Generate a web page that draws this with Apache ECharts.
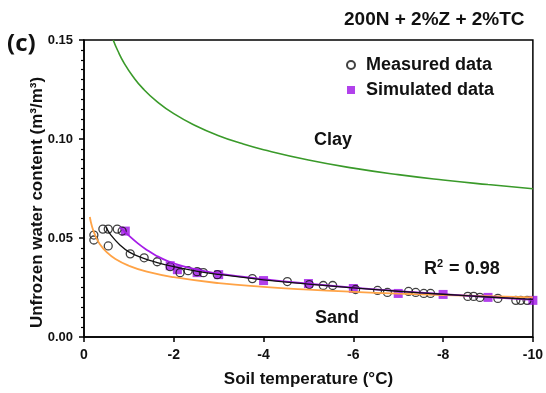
<!DOCTYPE html>
<html>
<head>
<meta charset="utf-8">
<script src="https://cdn.jsdelivr.net/npm/echarts@6/dist/echarts.min.js"></script>
<style>
  html, body { margin: 0; padding: 0; background: #fff; }
  #chart { width: 546px; height: 393px; }
</style>
</head>
<body>
<div id="chart"></div>
<script>
// measured points (soil temperature, unfrozen water content)
const measuredT = [-0.22, -0.22, -0.42, -0.54, -0.74, -0.85, -0.54, -1.03, -1.34, -1.63, -1.92, -2.14, -2.32, -2.52, -2.66, -2.97,
    -3.75, -4.53, -5.02, -5.33, -5.54, -6.05, -6.54, -6.76, -7.23, -7.39, -7.57, -7.72, -8.55, -8.68, -8.82, -9.22, -9.62, -9.73, -9.87];
const measuredTheta = [0.0515, 0.049, 0.0545, 0.0545, 0.0545, 0.0535, 0.046, 0.042, 0.040, 0.038, 0.0355, 0.0325, 0.0335, 0.033, 0.0325, 0.0315,
    0.0295, 0.028, 0.0265, 0.026, 0.026, 0.024, 0.0235, 0.0225, 0.023, 0.0225, 0.022, 0.022, 0.0205, 0.0205, 0.020, 0.0195, 0.0185, 0.0185, 0.0185];

// simulated points
const simT = [-0.92, -1.92, -2.08, -2.52, -3, -4, -5, -6, -7, -8, -9, -10];
const simTheta = [0.0535, 0.036, 0.034, 0.0325, 0.0315, 0.0285, 0.027, 0.0245, 0.022, 0.0215, 0.020, 0.0185];

// fitted curves
const measFitT = [-0.49, -0.6, -0.8, -1.0, -1.3, -1.6, -2, -2.5, -3, -4, -5, -6, -7, -8, -9, -10];
const measFitTheta = [0.0555, 0.0515, 0.0465, 0.0430, 0.0400, 0.0378, 0.0355, 0.0333, 0.0316, 0.0289, 0.0267, 0.0248, 0.0231, 0.0216, 0.0202, 0.0190];

const simFitT = [-0.8, -1.0, -1.2, -1.4, -1.6, -1.85, -2.2, -2.6, -3, -4, -5, -6, -7, -8, -9, -10];
const simFitTheta = [0.0555, 0.0512, 0.0473, 0.0440, 0.0412, 0.0385, 0.0358, 0.0337, 0.0320, 0.0292, 0.0269, 0.0249, 0.0232, 0.0217, 0.0202, 0.0188];

const sandT = [-0.13, -0.18, -0.25, -0.35, -0.5, -0.7, -1, -1.4, -2, -3, -4, -5, -6, -7, -8, -9, -10];
const sandTheta = [0.0606, 0.0557, 0.0513, 0.0470, 0.0430, 0.0394, 0.0360, 0.0330, 0.0302, 0.0272, 0.0253, 0.0239, 0.0228, 0.0219, 0.0212, 0.0206, 0.0200];

const clayT = [-0.65, -0.75, -0.9, -1.1, -1.32, -1.6, -2, -2.5, -3, -3.5, -4, -5, -6, -7, -8, -9, -10];
const clayTheta = [0.150, 0.1447, 0.1381, 0.1313, 0.1253, 0.1194, 0.1128, 0.1066, 0.1017, 0.0978, 0.0946, 0.0894, 0.0853, 0.0820, 0.0793, 0.0770, 0.0749];

const xTicks = { min: -10, max: 0, step: 2 };
const yTicks = { min: 0, max: 0.15, step: 0.05 };

const pair = (xs, ys) => xs.map((x, i) => [x, ys[i]]);
const bold = 'bold';
const font = 'Liberation Sans, Arial, sans-serif';

const myChart = echarts.init(document.getElementById('chart'));
const option = {
    animation: false,
    textStyle: { fontFamily: font },
    grid: {
        left: 84, right: 12, top: 40, bottom: 53,
        show: true,
        borderColor: '#000',
        borderWidth: 1.5,
    },
    legend: {
        orient: 'vertical',
        left: 341,
        top: 51,
        itemWidth: 8,
        itemHeight: 8,
        itemGap: 7,
        textStyle: { fontSize: 18, fontWeight: bold, color: '#111', fontFamily: font, padding: [0, 0, 0, 6] },
        data: ['Measured data', 'Simulated data'],
    },
    xAxis: {
        type: 'value',
        min: xTicks.min,
        max: xTicks.max,
        interval: xTicks.step,
        inverse: true,
        name: 'Soil temperature (\u00B0C)',
        nameLocation: 'middle',
        nameGap: 34,
        nameMoveOverlap: false,
        nameTextStyle: { fontSize: 17, fontWeight: bold, color: '#111' },
        axisLine: { onZero: false, lineStyle: { color: '#000', width: 1.5 } },
        axisTick: { length: 5, lineStyle: { color: '#000', width: 1.5 } },
        axisLabel: { fontSize: 14, fontWeight: bold, color: '#111', margin: 11 },
        splitLine: { show: false },
    },
    yAxis: {
        type: 'value',
        min: yTicks.min,
        max: yTicks.max,
        interval: yTicks.step,
        name: 'Unfrozen water content (m\u00B3/m\u00B3)',
        nameLocation: 'middle',
        nameGap: 38,
        nameMoveOverlap: false,
        nameTextStyle: { fontSize: 17, fontWeight: bold, color: '#111', padding: [0, 28, 0, 0] },
        axisLine: { show: true, onZero: false, lineStyle: { color: '#000', width: 1.5 } },
        axisTick: { show: true, length: 5, lineStyle: { color: '#000', width: 1.5 } },
        minorTick: { show: true, splitNumber: 10, length: 3, lineStyle: { color: '#000', width: 1.2 } },
        axisLabel: {
            fontSize: 13, fontWeight: bold, color: '#111', margin: 11,
            formatter: (v) => v.toFixed(2),
        },
        splitLine: { show: false },
    },
    graphic: [
        { type: 'text', left: 7, top: 32, style: { text: '(c)', font: 'bold 24px "Open Sans", sans-serif', fill: '#111' } },
        { type: 'text', left: 344, top: 10, style: { text: '200N + 2%Z + 2%TC', font: 'bold 19px ' + font, fill: '#111' } },
        { type: 'text', left: 314, top: 131, style: { text: 'Clay', font: 'bold 18px ' + font, fill: '#111' } },
        { type: 'text', left: 315, top: 309, style: { text: 'Sand', font: 'bold 18px ' + font, fill: '#111' } },
        {
            type: 'text', left: 424, top: 258,
            style: {
                text: '{b|R}{s|2}{b| = 0.98}',
                rich: {
                    b: { font: 'bold 18px ' + font, fill: '#111', verticalAlign: 'bottom' },
                    s: { font: 'bold 11px ' + font, fill: '#111', verticalAlign: 'top', padding: [0, 1, 9, 0] },
                },
            },
        },
    ],
    series: [
        {
            name: 'Clay fit', type: 'line', data: pair(clayT, clayTheta),
            smooth: 0.5, showSymbol: false, silent: true,
            lineStyle: { color: '#3a9a2a', width: 1.6 },
        },
        {
            name: 'Sand fit', type: 'line', data: pair(sandT, sandTheta),
            smooth: 0.5, showSymbol: false, silent: true,
            lineStyle: { color: '#ffa346', width: 1.8 },
        },
        {
            name: 'Simulated fit', type: 'line', data: pair(simFitT, simFitTheta),
            smooth: 0.5, showSymbol: false, silent: true,
            lineStyle: { color: '#a51de8', width: 1.8 },
        },
        {
            name: 'Measured fit', type: 'line', data: pair(measFitT, measFitTheta),
            smooth: 0.5, showSymbol: false, silent: true,
            lineStyle: { color: '#111', width: 1.3 },
        },
        {
            name: 'Simulated data', type: 'scatter', data: pair(simT, simTheta),
            symbol: 'rect', symbolSize: 9,
            itemStyle: { color: '#9d12e6' },
        },
        {
            name: 'Measured data', type: 'scatter', data: pair(measuredT, measuredTheta),
            symbol: 'circle', symbolSize: 8,
            itemStyle: { color: 'rgba(255,255,255,0)', borderColor: '#111', borderWidth: 1.3 },
        },
    ],
};
myChart.setOption(option);
</script>
</body>
</html>
